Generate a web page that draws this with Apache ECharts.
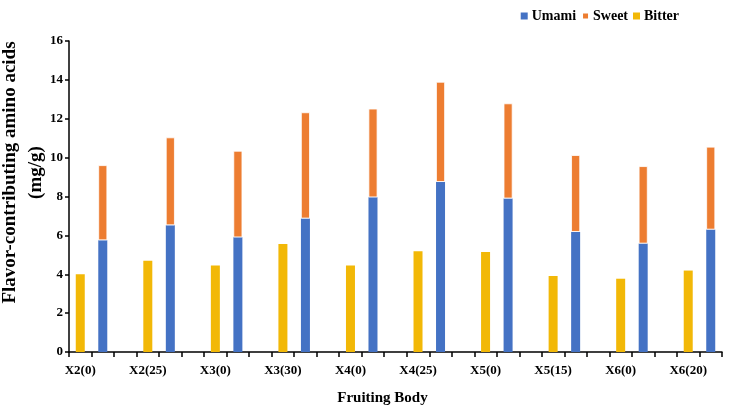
<!DOCTYPE html>
<html>
<head>
<meta charset="utf-8">
<script src="https://cdn.jsdelivr.net/npm/echarts@6/dist/echarts.min.js"></script>
<style>
  html, body { margin: 0; padding: 0; background: #fff; }
  #chart { width: 729px; height: 409px; }
</style>
</head>
<body>
<div id="chart"></div>
<script>
// 样品
const categories = ['X2(0)', 'X2(25)', 'X3(0)', 'X3(30)', 'X4(0)', 'X4(25)', 'X5(0)', 'X5(15)', 'X6(0)', 'X6(20)'];
// mg/g
const umami = [5.75, 6.52, 5.9, 6.87, 7.96, 8.75, 7.9, 6.18, 5.58, 6.3];
const sweet = [3.86, 4.52, 4.45, 5.46, 4.56, 5.15, 4.89, 3.95, 3.98, 4.26];
const bitter = [4.0, 4.7, 4.45, 5.55, 4.45, 5.18, 5.14, 3.91, 3.77, 4.19];
const yTicks = [0, 2, 4, 6, 8, 10, 12, 14, 16];

// 每个样品占三格: 苦味, 鲜+甜, 空 (最后一个没有空格)
const slots = [];
const bitterData = [];
const umamiData = [];
const sweetData = [];
categories.forEach((c, i) => {
  slots.push(c, ' ');
  bitterData.push(bitter[i], '-');
  umamiData.push('-', umami[i]);
  sweetData.push('-', sweet[i]);
  if (i < categories.length - 1) {
    slots.push(' ');
    bitterData.push('-');
    umamiData.push('-');
    sweetData.push('-');
  }
});

const font = '"Liberation Serif", "Times New Roman", serif';

const myChart = echarts.init(document.getElementById('chart'));
myChart.setOption({
  animation: false,
  textStyle: { fontFamily: font },
  legend: {
    data: ['Umami', 'Sweet', 'Bitter'],
    right: 45,
    top: 4,
    icon: 'rect',
    itemWidth: 7,
    itemHeight: 7,
    itemGap: 5,
    textStyle: { fontFamily: font, fontWeight: 'bold', fontSize: 14, color: '#000', padding: [0, 0, 0, -1] }
  },
  grid: { left: 69, right: 7, top: 41, bottom: 57, outerBoundsMode: 'none' },
  xAxis: {
    type: 'category',
    data: slots,
    name: 'Fruiting Body',
    nameLocation: 'middle',
    nameGap: 39,
    nameMoveOverlap: false,
    nameTextStyle: { fontFamily: font, fontWeight: 'bold', fontSize: 15, color: '#000', padding: [0, 26, 0, 0] },
    axisLine: { lineStyle: { color: '#000', width: 1.5 } },
    axisTick: { show: true, interval: 0, alignWithLabel: false, length: 5, lineStyle: { color: '#000', width: 1.5 } },
    axisLabel: { interval: 0, margin: 12, fontFamily: font, fontWeight: 'bold', fontSize: 13, color: '#000' }
  },
  yAxis: {
    type: 'value',
    min: yTicks[0],
    max: yTicks[yTicks.length - 1],
    interval: 2,
    name: 'Flavor-contributing amino acids\n(mg/g)',
    nameLocation: 'middle',
    nameGap: 20,
    nameMoveOverlap: false,
    nameTextStyle: {
      fontFamily: font, fontWeight: 'bold', fontSize: 19, lineHeight: 26, color: '#000',
      padding: [0, 0, 0, 48]
    },
    splitLine: { show: false },
    axisLine: { show: true, lineStyle: { color: '#000', width: 1.5 } },
    axisTick: { show: true, length: 4, lineStyle: { color: '#000', width: 1.5 } },
    axisLabel: { margin: 6, fontFamily: font, fontWeight: 'bold', fontSize: 13, color: '#000' }
  },
  series: [
    {
      name: 'Bitter', type: 'bar', stack: 'b', data: bitterData, barWidth: 9,
      itemStyle: { color: '#F2B807' }
    },
    {
      name: 'Umami', type: 'bar', stack: 'a', data: umamiData, barWidth: 9, barGap: '-100%',
      itemStyle: { color: '#4472C4' }
    },
    {
      name: 'Sweet', type: 'bar', stack: 'a', data: sweetData, barWidth: 9, barGap: '-100%',
      itemStyle: { color: '#ED7D31', borderColor: '#fff', borderWidth: 0.8 }
    }
  ]
});
</script>
</body>
</html>
